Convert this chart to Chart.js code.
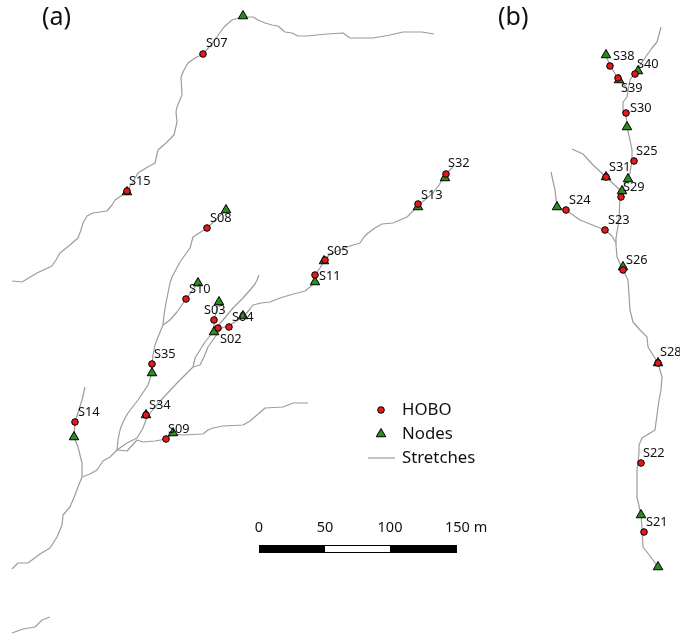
<!DOCTYPE html>
<html>
<head>
<meta charset="utf-8">
<title>HOBO map</title>
<script src="https://cdn.jsdelivr.net/npm/chart.js@4"></script>
<style>
  html, body { margin: 0; padding: 0; background: #fff; }
  canvas { display: block; }
</style>
</head>
<body>
<canvas id="mapChart" width="680" height="638"></canvas>
<script>
// --- data (map units, y grows downward) ---
const stretchA1 = [[12,281],[22,282],[37,273],[52,266],[56,260],[60,253],[70,245],[78,238],[81,230],[83,223],[87,216],[93,213],[107,211],[112,205],[115,200],[121,196],[127,191],[133,182],[138,173],[146,168],[155,163],[158,150],[166,143],[174,135],[177,122],[176,112],[177,107],[182,95],[181,77],[184,70],[188,63],[195,58],[203,54],[210,46],[217,37],[224,27],[232,20],[243,17],[253,17],[258,20],[265,23],[272,25],[278,26],[285,32],[292,33],[298,36],[307,36],[327,34],[343,33],[350,38],[373,38],[390,35],[403,32],[422,32],[434,34]];
const stretchA2 = [[226,210],[207,228],[193,237],[190,248],[185,255],[180,262],[172,277],[170,283],[168,293],[166,303],[164,315],[163,325],[158,337],[155,345],[153,355],[152,364],[152,373],[148,385],[138,400],[128,413],[123,422],[120,430],[118,440],[117,450]];
const stretchA3 = [[198,283],[186,299],[177,312],[170,320],[163,325]];
const stretchA4 = [[117,450],[127,443],[137,438],[143,428],[147,417],[155,407],[163,398],[177,383],[185,375],[193,367],[195,358],[205,342],[213,332],[223,320],[233,308],[242,299],[250,290],[255,284],[257,280],[259,275]];
const stretchA5 = [[193,367],[200,365],[204,357],[208,347],[215,337],[222,328],[230,325],[238,320],[245,315],[250,309],[253,305],[261,303],[270,302],[280,298],[290,295],[305,291],[310,287],[315,282],[315,275],[320,268],[324,261],[330,254],[340,250],[350,246],[360,243],[364,237],[368,233],[375,228],[382,224],[393,223],[400,220],[407,217],[413,211],[418,205],[426,199],[433,193],[439,185],[445,175],[453,167]];
const stretchA6 = [[219,302],[214,320],[214,332]];
const stretchA7 = [[85,387],[82,400],[75,422],[74,437],[78,447],[80,455],[82,463],[82,477],[78,487],[75,495],[70,507],[63,515],[62,525],[57,537],[50,548],[40,554],[28,563],[18,563],[12,569]];
const stretchA8 = [[82,477],[90,474],[97,470],[103,461],[110,457],[117,450],[127,451],[137,440],[143,442],[155,441],[166,439],[173,434],[183,435],[203,434],[208,430],[213,428],[223,426],[243,425],[250,421],[257,415],[265,408],[283,407],[293,403],[308,403]];
const stretchA9 = [[12,633],[23,629],[35,627],[42,620],[50,617]];
const stretchB1 = [[661,27],[657,42],[652,48],[647,55],[638,68],[630,80],[628,90],[627,97],[623,102],[623,113],[626,113],[627,127],[630,140],[632,150],[632,160],[630,173],[622,191],[620,197],[619,220],[616,238],[616,245],[617,257],[623,270],[628,280],[629,295],[630,310],[633,322],[640,330],[647,337],[648,347],[653,355],[658,363],[662,377],[661,390],[659,400],[657,415],[655,430],[642,438],[639,445],[639,453],[637,470],[637,497],[641,515],[642,528],[643,547],[650,556],[658,567],[663,569]];
const stretchB2 = [[606,55],[610,66],[618,78],[627,88]];
const stretchB3 = [[572,149],[583,154],[593,165],[606,177],[620,190]];
const stretchB4 = [[551,172],[555,190],[557,207],[566,210],[580,220],[605,230],[612,236],[616,243]];
const stretches = [stretchA1, stretchA2, stretchA3, stretchA4, stretchA5, stretchA6, stretchA7, stretchA8, stretchA9, stretchB1, stretchB2, stretchB3, stretchB4];

const hoboNames = ["S07","S15","S08","S05","S11","S32","S13","S10","S03","S04","S02","S35","S34","S14","S09","S38","S40","S39","S30","S25","S31","S29","S24","S23","S26","S28","S22","S21"];
const hoboX = [203,127,207,325,315,446,418,186,214,229,218,152,146,75,166,610,635,618,626,634,606,621,566,605,623,658,641,644];
const hoboY = [54,191,228,260,275,174,204,299,320,327,328,364,415,422,439,66,74,78,113,161,177,197,210,230,270,363,463,532];
const labelX = [206,129,210,327,319,448,421,189,204,232,220,154,149,78,168,613,637,621,630,636,609,623,569,608,626,660,643,646];
const labelY = [43,181,218,251,276,163,195,289,310,317,339,354,405,412,429,56,64,88,108,151,167,187,200,220,260,352,453,522];

const nodeX = [243,127,226,198,219,243,214,152,146,74,173,315,324,418,445,606,619,638,627,628,622,557,606,623,658,641,658];
const nodeY = [16,192,210,283,302,316,332,373,415,437,433,282,261,207,178,55,80,71,127,179,191,207,177,267,363,515,567];

const legendNames = ["HOBO","Nodes","Stretches"];
const legendY = [410,434,458];
const legendSymbolX = 381;
const legendLineX = [368,395];
const legendTextX = 402;

const scaleTicks = ["0","50","100","150 m"];
const scaleTickX = [259,325,390,457];
const scaleBarY = 549;
const scaleLabelY = 528;

const panelNames = ["(a)","(b)"];
const panelX = [42,498];
const panelY = 18;

const STRETCH_COLOR = "#9c9c9c";
const HOBO_COLOR = "#e31a1c";
const NODE_COLOR = "#2a8c1e";
const FONT = '"Noto Sans", "DejaVu Sans", sans-serif';

const toPoints = (xs, ys) => xs.map((x, i) => ({ x, y: ys[i] }));

// --- datasets ---
const datasets = [];

stretches.forEach(s => {
  datasets.push({
    type: "scatter",
    showLine: true,
    data: s.map(p => ({ x: p[0], y: p[1] })),
    borderColor: STRETCH_COLOR,
    borderWidth: 1.2,
    pointRadius: 0,
    order: 5
  });
});

// legend line
datasets.push({
  type: "scatter",
  showLine: true,
  data: legendLineX.map(x => ({ x, y: legendY[2] })),
  borderColor: STRETCH_COLOR,
  borderWidth: 1.2,
  pointRadius: 0,
  order: 5
});

// scale bar: black outline, then the white middle section
datasets.push({
  type: "scatter",
  showLine: true,
  data: [{ x: scaleTickX[0], y: scaleBarY }, { x: scaleTickX[3], y: scaleBarY }],
  borderColor: "#000",
  borderWidth: 8,
  pointRadius: 0,
  order: 4
});
datasets.push({
  type: "scatter",
  showLine: true,
  data: [{ x: scaleTickX[1], y: scaleBarY }, { x: scaleTickX[2], y: scaleBarY }],
  borderColor: "#fff",
  borderWidth: 6,
  pointRadius: 0,
  order: 3
});

datasets.push({
  type: "scatter",
  data: toPoints(nodeX, nodeY).concat([{ x: legendSymbolX, y: legendY[1] }]),
  pointStyle: "triangle",
  pointRadius: 5.5,
  backgroundColor: NODE_COLOR,
  borderColor: "#000",
  borderWidth: 1,
  order: 2
});

datasets.push({
  type: "scatter",
  data: toPoints(hoboX, hoboY).concat([{ x: legendSymbolX, y: legendY[0] }]),
  pointStyle: "circle",
  pointRadius: 3.3,
  backgroundColor: HOBO_COLOR,
  borderColor: "#000",
  borderWidth: 1,
  order: 1
});

// --- text on top of the marks ---
const mapText = {
  id: "mapText",
  afterDatasetsDraw(chart) {
    const { ctx, scales: { x, y } } = chart;
    const put = (txt, px, py, font, align) => {
      ctx.font = font;
      ctx.textAlign = align || "left";
      ctx.fillText(txt, x.getPixelForValue(px), y.getPixelForValue(py));
    };
    ctx.save();
    ctx.fillStyle = "#111";
    ctx.textBaseline = "middle";
    hoboNames.forEach((n, i) => put(n, labelX[i], labelY[i], `12.8px ${FONT}`));
    legendNames.forEach((n, i) => put(n, legendTextX, legendY[i], `16.8px ${FONT}`));
    scaleTicks.forEach((t, i) => {
      if (i === 3) {
        // the unit hangs off to the right of the last tick
        put(t, scaleTickX[i] - 12, scaleLabelY, `14.5px ${FONT}`);
      } else {
        put(t, scaleTickX[i], scaleLabelY, `14.5px ${FONT}`, "center");
      }
    });
    panelNames.forEach((n, i) => put(n, panelX[i], panelY, `25px ${FONT}`));
    ctx.restore();
  }
};

new Chart(document.getElementById("mapChart"), {
  type: "scatter",
  data: { datasets },
  plugins: [mapText],
  options: {
    responsive: false,
    animation: false,
    devicePixelRatio: 1,
    layout: { padding: 0, autoPadding: false },
    elements: { line: { tension: 0, borderCapStyle: "butt", borderJoinStyle: "round" } },
    plugins: { legend: { display: false }, tooltip: { enabled: false } },
    scales: {
      x: { type: "linear", display: false, min: 0, max: 680 },
      y: { type: "linear", display: false, min: 0, max: 638, reverse: true }
    }
  }
});
</script>
</body>
</html>
